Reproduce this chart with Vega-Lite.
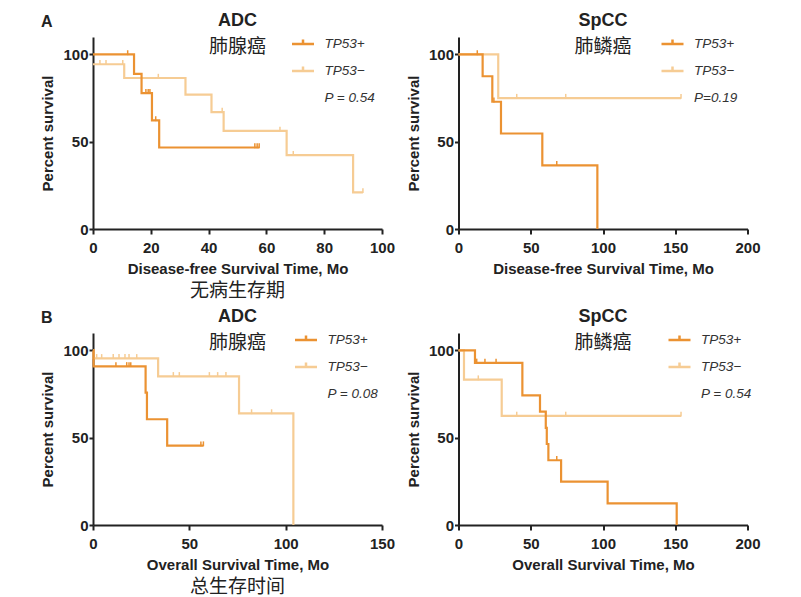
{
  "$schema": "https://vega.github.io/schema/vega-lite/v6.json",
  "background": "white",
  "padding": {"left": 40, "top": 12, "right": 5, "bottom": 0},
  "config": {
    "font": "Liberation Sans",
    "view": {"stroke": null},
    "axis": {"grid": false, "domainColor": "#222", "domainWidth": 2, "tickColor": "#222", "tickWidth": 2, "labelFont": "Liberation Sans", "labelFontWeight": "bold", "labelFontSize": 15, "labelColor": "#222", "titleFont": "Liberation Sans", "titleFontSize": 15, "titleFontWeight": "bold", "titleColor": "#222"},
    "axisX": {"tickSize": 5, "labelPadding": 6, "titlePadding": 6, "labelFlush": false},
    "axisY": {"tickSize": 4, "labelPadding": 1, "titlePadding": 7},
    "legend": {"title": null, "orient": "right", "symbolType": "M-2,0H2M0,0V-0.8", "symbolSize": 121, "symbolStrokeWidth": 2.5, "labelFont": "Liberation Sans", "labelFontStyle": "italic", "labelFontSize": 13.5, "labelColor": "#333", "rowPadding": 10, "labelOffset": 14.5, "padding": 0},
    "title": {"font": "Liberation Sans", "fontSize": 18, "fontWeight": "bold", "color": "#222", "subtitleFont": "Noto Sans CJK SC", "subtitleFontSize": 19, "subtitleColor": "#222", "subtitlePadding": 8}
  },
  "datasets": {
    "curves": [
      {"p": "A1", "g": "TP53−", "t": 0, "s": 94.4},
      {"p": "A1", "g": "TP53−", "t": 10.8, "s": 86.5},
      {"p": "A1", "g": "TP53−", "t": 32, "s": 77},
      {"p": "A1", "g": "TP53−", "t": 41, "s": 67},
      {"p": "A1", "g": "TP53−", "t": 45.2, "s": 56.2},
      {"p": "A1", "g": "TP53−", "t": 67, "s": 42.3},
      {"p": "A1", "g": "TP53−", "t": 90, "s": 21},
      {"p": "A1", "g": "TP53−", "t": 93.4, "s": 21},
      {"p": "A1", "g": "TP53+", "t": 0, "s": 100},
      {"p": "A1", "g": "TP53+", "t": 14.2, "s": 88.9},
      {"p": "A1", "g": "TP53+", "t": 16.8, "s": 77.8},
      {"p": "A1", "g": "TP53+", "t": 20.4, "s": 62.2},
      {"p": "A1", "g": "TP53+", "t": 22.9, "s": 46.7},
      {"p": "A1", "g": "TP53+", "t": 57.5, "s": 46.7},
      {"p": "A2", "g": "TP53−", "t": 0, "s": 100},
      {"p": "A2", "g": "TP53−", "t": 27.5, "s": 75},
      {"p": "A2", "g": "TP53−", "t": 154, "s": 75},
      {"p": "A2", "g": "TP53+", "t": 0, "s": 100},
      {"p": "A2", "g": "TP53+", "t": 16.7, "s": 87.5},
      {"p": "A2", "g": "TP53+", "t": 23.4, "s": 72.9},
      {"p": "A2", "g": "TP53+", "t": 29.4, "s": 54.7},
      {"p": "A2", "g": "TP53+", "t": 58, "s": 36.5},
      {"p": "A2", "g": "TP53+", "t": 96.1, "s": 0},
      {"p": "B1", "g": "TP53−", "t": 0, "s": 100},
      {"p": "B1", "g": "TP53−", "t": 0.3, "s": 95.5},
      {"p": "B1", "g": "TP53−", "t": 33.8, "s": 85.2},
      {"p": "B1", "g": "TP53−", "t": 75.8, "s": 63.9},
      {"p": "B1", "g": "TP53−", "t": 104, "s": 0},
      {"p": "B1", "g": "TP53+", "t": 0, "s": 100},
      {"p": "B1", "g": "TP53+", "t": 0.3, "s": 90.9},
      {"p": "B1", "g": "TP53+", "t": 27.3, "s": 75.8},
      {"p": "B1", "g": "TP53+", "t": 28, "s": 60.6},
      {"p": "B1", "g": "TP53+", "t": 38.5, "s": 45.5},
      {"p": "B1", "g": "TP53+", "t": 57.3, "s": 45.5},
      {"p": "B2", "g": "TP53−", "t": 0, "s": 100},
      {"p": "B2", "g": "TP53−", "t": 3.8, "s": 83.3},
      {"p": "B2", "g": "TP53−", "t": 29.9, "s": 62.5},
      {"p": "B2", "g": "TP53−", "t": 154, "s": 62.5},
      {"p": "B2", "g": "TP53+", "t": 0, "s": 100},
      {"p": "B2", "g": "TP53+", "t": 11.4, "s": 92.9},
      {"p": "B2", "g": "TP53+", "t": 44.2, "s": 74.3},
      {"p": "B2", "g": "TP53+", "t": 56.4, "s": 65},
      {"p": "B2", "g": "TP53+", "t": 60.4, "s": 55.7},
      {"p": "B2", "g": "TP53+", "t": 61.1, "s": 46.4},
      {"p": "B2", "g": "TP53+", "t": 62.2, "s": 37.1},
      {"p": "B2", "g": "TP53+", "t": 71, "s": 24.8},
      {"p": "B2", "g": "TP53+", "t": 103.2, "s": 12.4},
      {"p": "B2", "g": "TP53+", "t": 151, "s": 0}
    ],
    "censors": [
      {"p": "A1", "g": "TP53−", "t": 2.4, "s": 94.4},
      {"p": "A1", "g": "TP53−", "t": 4.5, "s": 94.4},
      {"p": "A1", "g": "TP53−", "t": 10.3, "s": 94.4},
      {"p": "A1", "g": "TP53−", "t": 22.6, "s": 86.5},
      {"p": "A1", "g": "TP53−", "t": 44.7, "s": 67},
      {"p": "A1", "g": "TP53−", "t": 64.7, "s": 56.2},
      {"p": "A1", "g": "TP53−", "t": 69.3, "s": 42.3},
      {"p": "A1", "g": "TP53−", "t": 93.4, "s": 21},
      {"p": "A1", "g": "TP53+", "t": 12, "s": 100},
      {"p": "A1", "g": "TP53+", "t": 18.3, "s": 77.8},
      {"p": "A1", "g": "TP53+", "t": 19.1, "s": 77.8},
      {"p": "A1", "g": "TP53+", "t": 19.7, "s": 77.8},
      {"p": "A1", "g": "TP53+", "t": 21.7, "s": 62.2},
      {"p": "A1", "g": "TP53+", "t": 56, "s": 46.7},
      {"p": "A1", "g": "TP53+", "t": 56.8, "s": 46.7},
      {"p": "A1", "g": "TP53+", "t": 57.5, "s": 46.7},
      {"p": "A2", "g": "TP53−", "t": 40.3, "s": 75},
      {"p": "A2", "g": "TP53−", "t": 74.2, "s": 75},
      {"p": "A2", "g": "TP53−", "t": 154, "s": 75},
      {"p": "A2", "g": "TP53+", "t": 13, "s": 100},
      {"p": "A2", "g": "TP53+", "t": 24.5, "s": 72.9},
      {"p": "A2", "g": "TP53+", "t": 68, "s": 36.5},
      {"p": "B1", "g": "TP53−", "t": 1.9, "s": 95.5},
      {"p": "B1", "g": "TP53−", "t": 4.5, "s": 95.5},
      {"p": "B1", "g": "TP53−", "t": 10.5, "s": 95.5},
      {"p": "B1", "g": "TP53−", "t": 13.5, "s": 95.5},
      {"p": "B1", "g": "TP53−", "t": 16.6, "s": 95.5},
      {"p": "B1", "g": "TP53−", "t": 18.7, "s": 95.5},
      {"p": "B1", "g": "TP53−", "t": 22.7, "s": 95.5},
      {"p": "B1", "g": "TP53−", "t": 41.7, "s": 85.2},
      {"p": "B1", "g": "TP53−", "t": 44.8, "s": 85.2},
      {"p": "B1", "g": "TP53−", "t": 60.4, "s": 85.2},
      {"p": "B1", "g": "TP53−", "t": 64.7, "s": 85.2},
      {"p": "B1", "g": "TP53−", "t": 69, "s": 85.2},
      {"p": "B1", "g": "TP53−", "t": 82.3, "s": 63.9},
      {"p": "B1", "g": "TP53−", "t": 92.7, "s": 63.9},
      {"p": "B1", "g": "TP53+", "t": 11.9, "s": 90.9},
      {"p": "B1", "g": "TP53+", "t": 17.5, "s": 90.9},
      {"p": "B1", "g": "TP53+", "t": 18.7, "s": 90.9},
      {"p": "B1", "g": "TP53+", "t": 19.6, "s": 90.9},
      {"p": "B1", "g": "TP53+", "t": 56, "s": 45.5},
      {"p": "B1", "g": "TP53+", "t": 57.3, "s": 45.5},
      {"p": "B2", "g": "TP53−", "t": 13.7, "s": 83.3},
      {"p": "B2", "g": "TP53−", "t": 40.3, "s": 62.5},
      {"p": "B2", "g": "TP53−", "t": 74.2, "s": 62.5},
      {"p": "B2", "g": "TP53−", "t": 154, "s": 62.5},
      {"p": "B2", "g": "TP53+", "t": 12.6, "s": 92.9},
      {"p": "B2", "g": "TP53+", "t": 18.3, "s": 92.9},
      {"p": "B2", "g": "TP53+", "t": 26, "s": 92.9},
      {"p": "B2", "g": "TP53+", "t": 68, "s": 37.1}
    ]
  },
  "spacing": 7,
  "resolve": {"scale": {"color": "independent"}, "legend": {"color": "independent"}},
  "vconcat": [
    {
      "title": {"text": "A", "anchor": "start", "frame": "bounds", "fontSize": 16, "fontWeight": "bold", "offset": -18},
      "spacing": 10.5,
      "resolve": {"scale": {"color": "independent"}, "legend": {"color": "independent"}},
      "hconcat": [
        {
          "title": {"text": "无病生存期", "orient": "bottom", "anchor": "middle", "frame": "group", "dx": 144.5, "font": "Noto Sans CJK SC", "fontSize": 19, "fontWeight": "normal", "offset": 6},
          "resolve": {"scale": {"color": "independent"}, "legend": {"color": "independent"}},
          "vconcat": [
            {
              "width": 289, "height": 192,
              "title": {"text": "ADC", "subtitle": "肺腺癌", "anchor": "middle", "frame": "group", "offset": -20},
              "layer": [
                {
                  "data": {"name": "curves"},
                  "transform": [{"filter": "datum.p === 'A1'"}],
                  "mark": {"type": "line", "interpolate": "step-after", "strokeWidth": 2.2},
                  "encoding": {
                    "x": {"field": "t", "type": "quantitative", "scale": {"domain": [0, 100], "nice": false}, "axis": {"values": [0, 20, 40, 60, 80, 100], "title": "Disease-free Survival Time, Mo"}},
                    "y": {"field": "s", "type": "quantitative", "scale": {"domain": [0, 110], "nice": false}, "axis": {"values": [0, 50, 100], "title": "Percent survival"}},
                    "color": {"field": "g", "type": "nominal", "scale": {"domain": ["TP53+", "TP53−", "P = 0.54"], "range": ["#EB9232", "#F6CC94", "rgba(0,0,0,0)"]}, "legend": {"offset": -86.5}}
                  }
                },
                {
                  "data": {"name": "censors"},
                  "transform": [{"filter": "datum.p === 'A1'"}],
                  "mark": {"type": "point", "shape": "M0,-1.2V0.2", "size": 49, "strokeWidth": 1.5, "filled": false, "opacity": 1},
                  "encoding": {
                    "x": {"field": "t", "type": "quantitative", "axis": {"values": [0, 20, 40, 60, 80, 100], "title": "Disease-free Survival Time, Mo"}},
                    "y": {"field": "s", "type": "quantitative", "axis": {"values": [0, 50, 100], "title": "Percent survival"}},
                    "color": {"field": "g", "type": "nominal", "legend": null}
                  }
                }
              ]
            }
          ]
        },
        {
          "width": 289, "height": 192,
          "title": {"text": "SpCC", "subtitle": "肺鳞癌", "anchor": "middle", "frame": "group", "offset": -20},
          "layer": [
            {
              "data": {"name": "curves"},
              "transform": [{"filter": "datum.p === 'A2'"}],
              "mark": {"type": "line", "interpolate": "step-after", "strokeWidth": 2.2},
              "encoding": {
                "x": {"field": "t", "type": "quantitative", "scale": {"domain": [0, 200], "nice": false}, "axis": {"values": [0, 50, 100, 150, 200], "title": "Disease-free Survival Time, Mo"}},
                "y": {"field": "s", "type": "quantitative", "scale": {"domain": [0, 110], "nice": false}, "axis": {"values": [0, 50, 100], "title": "Percent survival"}},
                "color": {"field": "g", "type": "nominal", "scale": {"domain": ["TP53+", "TP53−", "P=0.19"], "range": ["#EB9232", "#F6CC94", "rgba(0,0,0,0)"]}, "legend": {"offset": -82.5}}
              }
            },
            {
              "data": {"name": "censors"},
              "transform": [{"filter": "datum.p === 'A2'"}],
              "mark": {"type": "point", "shape": "M0,-1.2V0.2", "size": 49, "strokeWidth": 1.5, "filled": false, "opacity": 1},
              "encoding": {
                "x": {"field": "t", "type": "quantitative", "axis": {"values": [0, 50, 100, 150, 200], "title": "Disease-free Survival Time, Mo"}},
                "y": {"field": "s", "type": "quantitative", "axis": {"values": [0, 50, 100], "title": "Percent survival"}},
                "color": {"field": "g", "type": "nominal", "legend": null}
              }
            }
          ]
        }
      ]
    },
    {
      "title": {"text": "B", "anchor": "start", "frame": "bounds", "fontSize": 16, "fontWeight": "bold", "offset": -18},
      "spacing": 10.5,
      "resolve": {"scale": {"color": "independent"}, "legend": {"color": "independent"}},
      "hconcat": [
        {
          "title": {"text": "总生存时间", "orient": "bottom", "anchor": "middle", "frame": "group", "dx": 144.5, "font": "Noto Sans CJK SC", "fontSize": 19, "fontWeight": "normal", "offset": 6},
          "resolve": {"scale": {"color": "independent"}, "legend": {"color": "independent"}},
          "vconcat": [
            {
              "width": 289, "height": 192,
              "title": {"text": "ADC", "subtitle": "肺腺癌", "anchor": "middle", "frame": "group", "offset": -20},
              "layer": [
                {
                  "data": {"name": "curves"},
                  "transform": [{"filter": "datum.p === 'B1'"}],
                  "mark": {"type": "line", "interpolate": "step-after", "strokeWidth": 2.2},
                  "encoding": {
                    "x": {"field": "t", "type": "quantitative", "scale": {"domain": [0, 150], "nice": false}, "axis": {"values": [0, 50, 100, 150], "title": "Overall Survival Time, Mo"}},
                    "y": {"field": "s", "type": "quantitative", "scale": {"domain": [0, 110], "nice": false}, "axis": {"values": [0, 50, 100], "title": "Percent survival"}},
                    "color": {"field": "g", "type": "nominal", "scale": {"domain": ["TP53+", "TP53−", "P = 0.08"], "range": ["#EB9232", "#F6CC94", "rgba(0,0,0,0)"]}, "legend": {"offset": -83.5}}
                  }
                },
                {
                  "data": {"name": "censors"},
                  "transform": [{"filter": "datum.p === 'B1'"}],
                  "mark": {"type": "point", "shape": "M0,-1.2V0.2", "size": 49, "strokeWidth": 1.5, "filled": false, "opacity": 1},
                  "encoding": {
                    "x": {"field": "t", "type": "quantitative", "axis": {"values": [0, 50, 100, 150], "title": "Overall Survival Time, Mo"}},
                    "y": {"field": "s", "type": "quantitative", "axis": {"values": [0, 50, 100], "title": "Percent survival"}},
                    "color": {"field": "g", "type": "nominal", "legend": null}
                  }
                }
              ]
            }
          ]
        },
        {
          "width": 289, "height": 192,
          "title": {"text": "SpCC", "subtitle": "肺鳞癌", "anchor": "middle", "frame": "group", "offset": -20},
          "layer": [
            {
              "data": {"name": "curves"},
              "transform": [{"filter": "datum.p === 'B2'"}],
              "mark": {"type": "line", "interpolate": "step-after", "strokeWidth": 2.2},
              "encoding": {
                "x": {"field": "t", "type": "quantitative", "scale": {"domain": [0, 200], "nice": false}, "axis": {"values": [0, 50, 100, 150, 200], "title": "Overall Survival Time, Mo"}},
                "y": {"field": "s", "type": "quantitative", "scale": {"domain": [0, 110], "nice": false}, "axis": {"values": [0, 50, 100], "title": "Percent survival"}},
                "color": {"field": "g", "type": "nominal", "scale": {"domain": ["TP53+", "TP53−", "P = 0.54"], "range": ["#EB9232", "#F6CC94", "rgba(0,0,0,0)"]}, "legend": {"offset": -75.5}}
              }
            },
            {
              "data": {"name": "censors"},
              "transform": [{"filter": "datum.p === 'B2'"}],
              "mark": {"type": "point", "shape": "M0,-1.2V0.2", "size": 49, "strokeWidth": 1.5, "filled": false, "opacity": 1},
              "encoding": {
                "x": {"field": "t", "type": "quantitative", "axis": {"values": [0, 50, 100, 150, 200], "title": "Overall Survival Time, Mo"}},
                "y": {"field": "s", "type": "quantitative", "axis": {"values": [0, 50, 100], "title": "Percent survival"}},
                "color": {"field": "g", "type": "nominal", "legend": null}
              }
            }
          ]
        }
      ]
    }
  ]
}
